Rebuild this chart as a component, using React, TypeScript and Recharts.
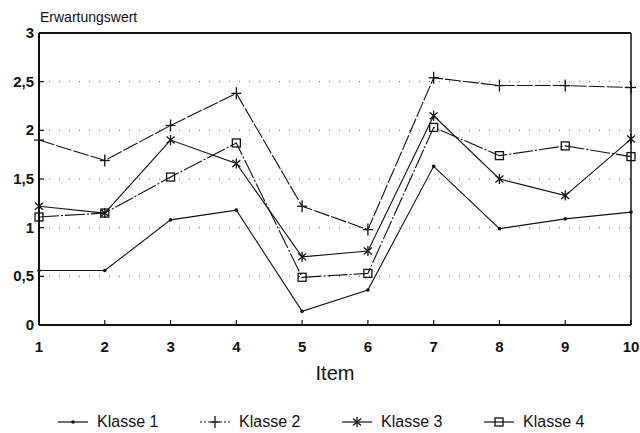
import React from 'react';
import { LineChart, Line, XAxis, YAxis, CartesianGrid, ReferenceLine, Legend } from 'recharts';

const items = [1, 2, 3, 4, 5, 6, 7, 8, 9, 10];
const klasse1 = [0.56, 0.56, 1.08, 1.18, 0.14, 0.36, 1.63, 0.99, 1.09, 1.16];
const klasse2 = [1.9, 1.69, 2.05, 2.38, 1.22, 0.98, 2.54, 2.46, 2.46, 2.44];
const klasse3 = [1.22, 1.15, 1.9, 1.66, 0.7, 0.76, 2.15, 1.5, 1.33, 1.91];
const klasse4 = [1.11, 1.15, 1.52, 1.87, 0.49, 0.53, 2.03, 1.74, 1.84, 1.73];
const yTicks = [0, 0.5, 1, 1.5, 2, 2.5, 3];
const seriesNames = ['Klasse 1', 'Klasse 2', 'Klasse 3', 'Klasse 4'];
const yTitle = 'Erwartungswert';
const xTitle = 'Item';

const data = items.map((item, i) => ({
  item,
  k1: klasse1[i],
  k2: klasse2[i],
  k3: klasse3[i],
  k4: klasse4[i],
}));

const INK = '#111';
const FONT = 'Liberation Sans, Arial, sans-serif';

const drawMarker = (kind: number, cx: number, cy: number) => {
  if (kind === 0) return <circle cx={cx} cy={cy} r={1.8} fill={INK} />;
  if (kind === 1)
    return (
      <g stroke={INK} strokeWidth={1.3}>
        <line x1={cx - 5} x2={cx + 5} y1={cy} y2={cy} />
        <line x1={cx} x2={cx} y1={cy - 6} y2={cy + 6} />
      </g>
    );
  if (kind === 2)
    return (
      <g stroke={INK} strokeWidth={1.3}>
        <line x1={cx} x2={cx} y1={cy - 5} y2={cy + 5} />
        <line x1={cx - 4} x2={cx + 4} y1={cy - 3.5} y2={cy + 3.5} />
        <line x1={cx - 4} x2={cx + 4} y1={cy + 3.5} y2={cy - 3.5} />
      </g>
    );
  return <rect x={cx - 4} y={cy - 4} width={8} height={8} fill="none" stroke={INK} strokeWidth={1.3} />;
};

const makeDot = (kind: number) => (props: any) => {
  const { cx, cy, index } = props;
  if (cx == null || cy == null) return <g key={`d${kind}-${index}`} />;
  return <g key={`d${kind}-${index}`}>{drawMarker(kind, cx, cy)}</g>;
};

const XTick = (props: any) => {
  const { x, y, payload } = props;
  return (
    <g>
      <line x1={x} x2={x} y1={y} y2={y - 5} stroke={INK} strokeWidth={1.2} />
      <text x={x} y={y} dy={27} textAnchor="middle" fontFamily={FONT} fontWeight="bold" fontSize={15} fill={INK}>
        {payload.value}
      </text>
    </g>
  );
};

const YTick = (props: any) => {
  const { x, y, payload } = props;
  return (
    <g>
      <line x1={x} x2={x + 5} y1={y} y2={y} stroke={INK} strokeWidth={1.2} />
      <text x={x - 5} y={y} dy={5} textAnchor="end" fontFamily={FONT} fontWeight="bold" fontSize={15} fill={INK}>
        {String(payload.value).replace('.', ',')}
      </text>
    </g>
  );
};

const dashes = [undefined, '16 2', undefined, '20 2 2 2'];

const renderLegend = () => (
  <div style={{ display: 'flex', paddingLeft: 58, fontFamily: FONT, fontSize: 16, color: INK, height: 20, alignItems: 'center' }}>
    {seriesNames.map((name, i) => (
      <div key={name} style={{ width: 142, display: 'flex', alignItems: 'center' }}>
        <svg width={30} height={14}>
          <line x1={0} x2={30} y1={7} y2={7} stroke={INK} strokeWidth={1.2} strokeDasharray={i === 1 ? '2 2' : undefined} />
          {drawMarker(i, 15, 7)}
        </svg>
        <span style={{ marginLeft: 9, lineHeight: '20px' }}>{name}</span>
      </div>
    ))}
  </div>
);

const keys = ['k1', 'k2', 'k3', 'k4'];

export default function App() {
  return (
    <div style={{ position: 'absolute', left: 0, top: 0, background: '#fff' }}>
      <LineChart width={640} height={433} data={data} margin={{ top: 33, right: 9, bottom: 78, left: 0 }}>
        <CartesianGrid horizontal vertical={false} stroke="#666" strokeDasharray="1 9" />
        <XAxis
          dataKey="item"
          type="number"
          domain={[1, 10]}
          ticks={items}
          height={30}
          tickSize={0}
          tickMargin={0}
          tick={<XTick />}
          axisLine={{ stroke: INK, strokeWidth: 2 }}
          label={{
            content: (p: any) => {
              const vb = p.viewBox;
              return (
                <text x={vb.x + vb.width / 2} y={vb.y + 55} textAnchor="middle" fontFamily={FONT} fontSize={20} fill={INK}>
                  {xTitle}
                </text>
              );
            },
          }}
        />
        <YAxis
          type="number"
          domain={[0, 3]}
          ticks={yTicks}
          width={39}
          tickSize={0}
          tickMargin={0}
          tick={<YTick />}
          axisLine={{ stroke: INK, strokeWidth: 2 }}
          label={{
            content: (p: any) => {
              const vb = p.viewBox;
              return (
                <text x={vb.x + vb.width + 1} y={vb.y - 11} textAnchor="start" fontFamily={FONT} fontSize={14} fill={INK}>
                  {yTitle}
                </text>
              );
            },
          }}
        />
        <ReferenceLine y={3} stroke={INK} strokeWidth={2} />
        <ReferenceLine x={10} stroke={INK} strokeWidth={1.5} />
        {keys.map((k, i) => (
          <Line
            key={k}
            dataKey={k}
            name={seriesNames[i]}
            type="linear"
            stroke={INK}
            strokeWidth={1.1}
            strokeDasharray={dashes[i]}
            dot={makeDot(i)}
            activeDot={false}
            isAnimationActive={false}
          />
        ))}
        <Legend
          verticalAlign="middle"
          layout="horizontal"
          align="center"
          wrapperStyle={{ top: 412, left: 0, width: 640 }}
          content={renderLegend}
        />
      </LineChart>
    </div>
  );
}
